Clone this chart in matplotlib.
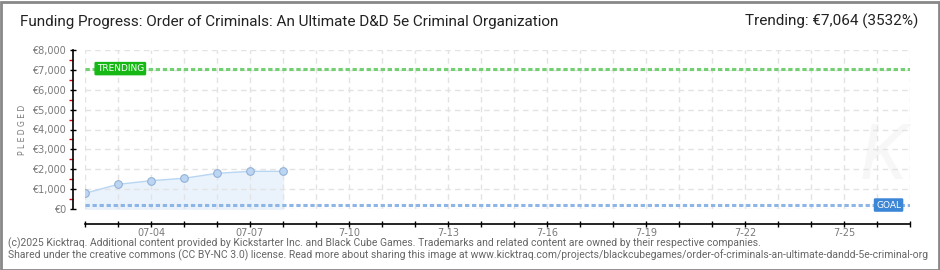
import matplotlib
matplotlib.use('Agg')
import matplotlib.pyplot as plt
from matplotlib.patches import Rectangle
from matplotlib.ticker import FixedLocator, MultipleLocator, FuncFormatter

# data
days = ['07-02', '07-03', '07-04', '07-05', '07-06', '07-07', '07-08']
pledged = [790, 1240, 1425, 1545, 1795, 1895, 1895]
goal = 200
trending = 7064
n_days = 25  # 07-02 .. 07-27
tick_labels = ['07-04', '07-07', '7-10', '7-13', '7-16', '7-19', '7-22', '7-25']
tick_days = [2, 5, 8, 11, 14, 17, 20, 23]

title = 'Funding Progress: Order of Criminals: An Ultimate D&D 5e Criminal Organization'
trend_text = 'Trending: €7,064 (3532%)'
footer1 = ('(c)2025 Kicktraq. Additional content provided by Kickstarter Inc. and Black Cube Games. '
           'Trademarks and related content are owned by their respective companies.')
footer2 = ('Shared under the creative commons (CC BY-NC 3.0) license. Read more about sharing this image at '
           'www.kicktraq.com/projects/blackcubegames/order-of-criminals-an-ultimate-dandd-5e-criminal-org')

narrow = ['Roboto', 'DejaVu Sans']
W, H = 940, 270

fig = plt.figure(figsize=(W / 100, H / 100), dpi=100)
fig.patch.set_facecolor('white')
ax = fig.add_axes([85 / W, 1 - 209 / H, (910 - 85) / W, (209 - 50) / H])

x = list(range(len(pledged)))
ax.fill_between(x, 0, pledged, color='#eaf3fc', zorder=1)
ax.plot(x, pledged, color='#b8d5f2', lw=1, zorder=3)
ax.plot(x, pledged, ls='none', marker='o', ms=5.5, mfc='#bcd5f2', mec='#93b1d6', mew=0.8, zorder=4)

# goal / trending lines
ax.axhline(goal, color='#8db5e6', lw=2.2, ls=(0, (1.4, 0.9)), zorder=2)
ax.axhline(trending, color='#72cf72', lw=2.2, ls=(0, (1.4, 0.9)), zorder=2)

ax.text(1.07, trending, 'TRENDING', color='white', fontsize=6.5, ha='center', va='center', zorder=6,
        bbox=dict(boxstyle='round,pad=0.25,rounding_size=0.15', fc='#16b816', ec='none'))
ax.text(24.35, goal, 'GOAL', color='white', fontsize=6.5, ha='center', va='center', zorder=6,
        bbox=dict(boxstyle='round,pad=0.25,rounding_size=0.15', fc='#3b86d6', ec='none'))

# faint watermark
ax.text(24.2, 2600, 'K', fontsize=56, color='#f7f7f7', style='italic', ha='center', va='center',
        zorder=0, family=narrow)

ax.set_xlim(0, n_days)
ax.set_ylim(0, 8000)

ax.xaxis.set_major_locator(MultipleLocator(1))
ax.xaxis.set_major_formatter(FuncFormatter(
    lambda v, p: tick_labels[tick_days.index(int(round(v)))] if int(round(v)) in tick_days else ''))
ax.yaxis.set_major_locator(MultipleLocator(1000))
ax.yaxis.set_minor_locator(FixedLocator([500 + 1000 * i for i in range(8)]))
ax.yaxis.set_major_formatter(FuncFormatter(lambda v, p: '€{:,.0f}'.format(v)))

ax.grid(True, which='major', color='#e3e3e3', lw=1, ls=(0, (4, 3)), zorder=0)

for s in ['top', 'right']:
    ax.spines[s].set_visible(False)
ax.spines['left'].set_position(('outward', 9))
ax.spines['bottom'].set_position(('outward', 11))
ax.spines['left'].set_linewidth(1.2)
ax.spines['bottom'].set_linewidth(1.2)

ax.tick_params(axis='y', which='major', direction='inout', length=5, width=1, colors='black',
               labelcolor='#7a7a7a', labelsize=7, pad=2)
ax.tick_params(axis='y', which='minor', direction='out', length=3, width=1, colors='#e00000')
ax.tick_params(axis='x', which='major', direction='inout', length=5, width=1, colors='black',
               labelcolor='#7a7a7a', labelsize=7, pad=0)

ax.set_ylabel('P L E D G E D', color='#777777', fontsize=5.5, labelpad=4)

fig.text(20 / W, 1 - 22 / H, title, fontsize=11, color='#222222', ha='left', va='center', family=narrow)
fig.text(918 / W, 1 - 21 / H, trend_text, fontsize=11, color='#222222', ha='right', va='center', family=narrow)
fig.text(8 / W, 1 - 243 / H, footer1, fontsize=7.5, color='#666666', ha='left', va='center', family=narrow)
fig.text(8 / W, 1 - 255 / H, footer2, fontsize=7.5, color='#666666', ha='left', va='center', family=narrow)

fig.add_artist(Rectangle((0.5 / W, 0.5 / H), (W - 2) / W, (H - 2) / H, transform=fig.transFigure,
                         fill=False, ec='#888888', lw=2))

fig.savefig('out.png', dpi=100)
